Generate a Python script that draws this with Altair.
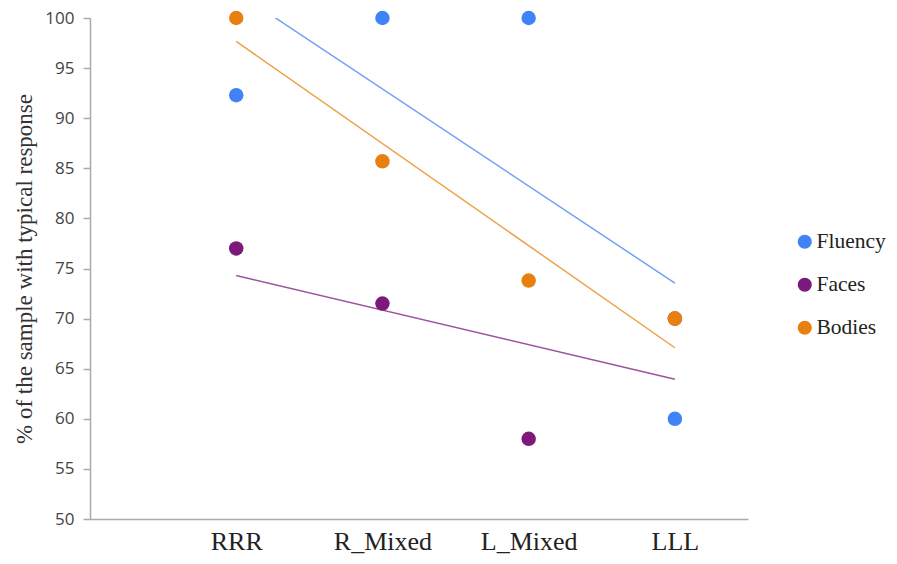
import altair as alt
import pandas as pd

categories = ["RRR", "R_Mixed", "L_Mixed", "LLL"]
series = ["Fluency", "Faces", "Bodies"]
fluency = [92.3, 100, 100, 60]
faces = [77, 71.5, 58, 70]
bodies = [100, 85.7, 73.8, 70]
colors = ["#3f83f7", "#7b1a7b", "#e8800f"]

rows = []
for s, vals in zip(series, [fluency, faces, bodies]):
    for i, (c, v) in enumerate(zip(categories, vals)):
        rows.append({"series": s, "order": series.index(s), "idx": i + 1, "cat": c, "value": v})
df = pd.DataFrame(rows)

label_expr = "{" + ",".join(f"'{i+1}':'{c}'" for i, c in enumerate(categories)) + "}[datum.value] || ''"

xenc = alt.X("idx:Q", scale=alt.Scale(domain=[0, 4.5], nice=False, zero=False),
             axis=alt.Axis(values=[1, 2, 3, 4], labelExpr=label_expr, title=None, grid=False,
                           ticks=False, domainColor="#aaaaaa", domainWidth=1.5,
                           labelFont="Liberation Serif", labelFontSize=26, labelColor="#222222",
                           labelBaseline="alphabetic", labelPadding=30))
yenc = alt.Y("value:Q", scale=alt.Scale(domain=[50, 100], nice=False, zero=False),
             axis=alt.Axis(values=list(range(50, 101, 5)), title="% of the sample with typical response",
                           grid=False, domainColor="#aaaaaa", domainWidth=1.5, tickColor="#aaaaaa",
                           tickSize=7, tickWidth=1.5, labelFont="Open Sans", labelFontSize=17,
                           labelColor="#444444", labelPadding=9,
                           titleFont="Liberation Serif", titleFontSize=23, titleFontWeight="normal",
                           titleColor="#333333", titlePadding=8))
color = alt.Color("series:N", scale=alt.Scale(domain=series, range=colors),
                  legend=alt.Legend(title=None, orient="none", legendX=704, legendY=213, padding=0,
                                    symbolType="circle", symbolSize=200, symbolStrokeWidth=0,
                                    symbolOpacity=1,
                                    labelFont="Liberation Serif", labelFontSize=21.5,
                                    labelColor="#222222", rowPadding=20, labelOffset=1))

lines = alt.Chart(df).transform_regression("idx", "value", groupby=["series"]).mark_line(
    strokeWidth=1.5, clip=True).encode(x=xenc, y=yenc, color=color, opacity=alt.value(0.75))

points = alt.Chart(df).mark_circle(size=210, opacity=1).encode(
    x=xenc, y=yenc, color=color, order=alt.Order("order:Q"))

chart = alt.layer(lines, points).properties(
    width=658, height=501,
    autosize=alt.AutoSizeParams(type="none"),
    padding={"left": 82, "top": 10, "right": 141, "bottom": 37},
).configure_view(stroke=None).configure_legend(labelFont="Liberation Serif")

chart.save("out.html", embed_options={"renderer": "svg", "actions": False})
